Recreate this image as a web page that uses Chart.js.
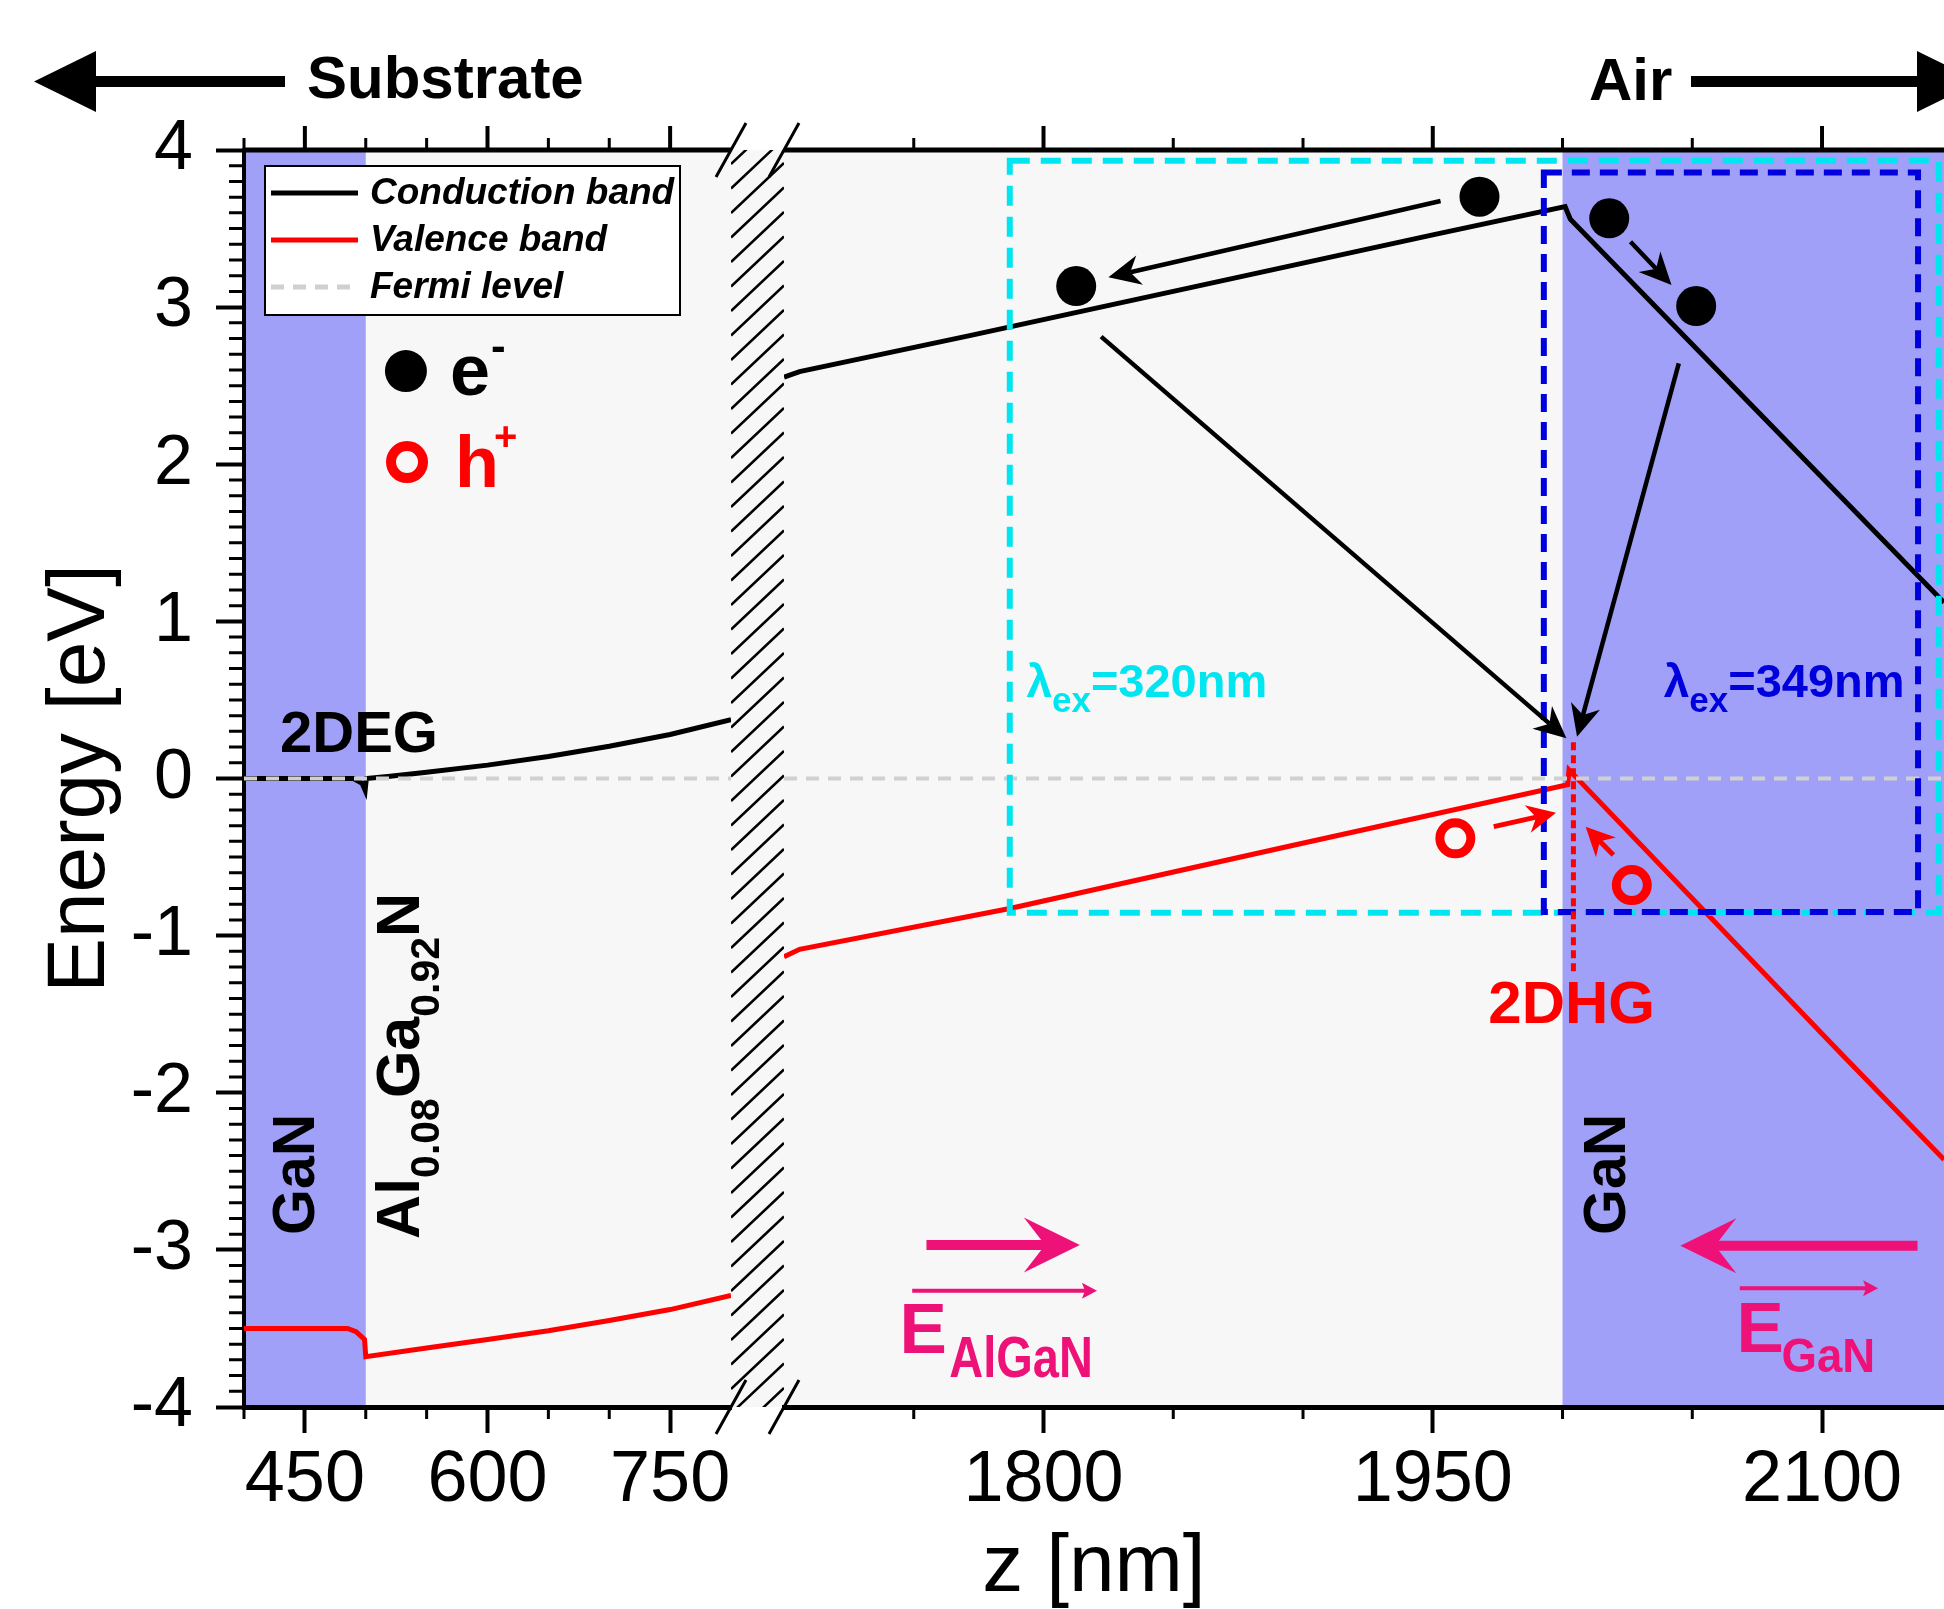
<!DOCTYPE html>
<html><head><meta charset="utf-8">
<script src="https://cdn.jsdelivr.net/npm/chart.js@4.4.1/dist/chart.umd.min.js"></script>
<style>html,body{margin:0;padding:0;background:#fff}canvas{display:block}</style>
</head><body>
<canvas id="c" width="1944" height="1609"></canvas>
<script>
const FONT = "'Liberation Sans', Arial, sans-serif";

// ---- axis ranges / ticks ----
const leftRange = [400, 800];
const rightRange = [1700, 2147];
const gaNLeft = [400, 500];
const gaNRight = [2000, 2147];
const xTicksLeft = [400, 450, 500, 550, 600, 650, 700, 750];
const xMajorLeft = [450, 600, 750];
const xTicksRight = [1750, 1800, 1850, 1900, 1950, 2000, 2050, 2100];
const xMajorRight = [1800, 1950, 2100];
const yRange = [-4, 4];

// ---- band data (z in nm, E in eV) ----
const zCbLeft = [400, 490, 497, 499.5, 500.5, 520, 550, 600, 650, 700, 750, 800];
const cbLeft  = [0, 0, -0.03, -0.075, 0.0, 0.015, 0.04, 0.085, 0.14, 0.205, 0.28, 0.375];
const zVbLeft = [400, 485, 492, 499, 500, 550, 600, 650, 700, 750, 800];
const vbLeft  = [-3.5, -3.5, -3.52, -3.57, -3.68, -3.625, -3.57, -3.515, -3.45, -3.38, -3.29];
const zCbRight = [1700, 1706, 1772, 1850, 1900, 1950, 2001, 2003, 2069, 2147];
const cbRight  = [2.555, 2.59, 2.82, 3.10, 3.28, 3.46, 3.64, 3.56, 2.44, 1.12];
const zVbRight = [1700, 1706, 1787, 1895, 2002, 2002.5, 2106, 2147];
const vbRight  = [-1.134, -1.087, -0.827, -0.43, -0.04, 0.055, -1.728, -2.425];
const zFermiLeft = [400, 800];
const zFermiRight = [1700, 2147];
const fermi = [0, 0];

// ---- carriers (right segment) ----
const electronZ = [1968, 1812.6, 2018, 2051.5];
const electronE = [3.703, 3.134, 3.565, 3.007];
const holeZ = [1958.7, 2026.7];
const holeE = [-0.381, -0.678];
// arrows [z0, E0, z1, E1]
const blackArrows = [[1953, 3.675, 1825, 3.19], [2026.2, 3.416, 2042, 3.141],
                     [1822.2, 2.812, 2001.5, 0.256], [2044.8, 2.642, 2005.6, 0.266]];
const redArrows = [[1973.5, -0.306, 1997.5, -0.218], [2019.6, -0.487, 2008.9, -0.307]];

const GAN = '#a0a0f8', BG = '#f7f7f7', CYAN = '#00e6f0', BLUE = '#0000dc', PINK = '#ee1177', RED = '#ff0000';

const pts = (zs, es) => zs.map((z, i) => ({x: z, y: es[i]}));

function zeroPad(s) { s.paddingLeft = 0; s.paddingRight = 0; s.paddingTop = 0; s.paddingBottom = 0; }

function xAxis(range, weight, ticks, majors, labels) {
  return {
    type: 'linear', position: 'bottom', stack: 'bx', stackWeight: weight,
    min: range[0], max: range[1],
    afterBuildTicks: s => { s.ticks = ticks.map(v => ({value: v})); },
    afterFit: s => { s.height = 120; zeroPad(s); },
    ticks: {display: labels, autoSkip: false, maxRotation: 0, padding: 5, color: '#000',
      font: {family: FONT, size: 72},
      callback: v => majors.includes(v) ? String(v) : ''},
    grid: {drawOnChartArea: false, drawTicks: true, tickLength: 26, tickWidth: 4,
      tickColor: c => majors.includes(c.tick.value) ? '#000' : 'rgba(0,0,0,0)'},
    border: {display: ticks.length > 0, width: 5, color: '#000'}
  };
}

function arrowTo(ctx, x0, y0, x1, y1, L, H, notch, lw, color) {
  const a = Math.atan2(y1 - y0, x1 - x0);
  ctx.save();
  ctx.strokeStyle = color; ctx.fillStyle = color; ctx.lineWidth = lw; ctx.lineCap = 'butt';
  ctx.beginPath(); ctx.moveTo(x0, y0);
  ctx.lineTo(x1 - Math.cos(a) * L * notch, y1 - Math.sin(a) * L * notch); ctx.stroke();
  ctx.translate(x1, y1); ctx.rotate(a);
  ctx.beginPath(); ctx.moveTo(0, 0); ctx.lineTo(-L, -H); ctx.lineTo(-L * notch, 0); ctx.lineTo(-L, H);
  ctx.closePath(); ctx.fill();
  ctx.restore();
}

function rich(ctx, x, y, parts, rot) {
  ctx.save(); ctx.translate(x, y); if (rot) ctx.rotate(rot);
  ctx.textBaseline = 'alphabetic'; ctx.textAlign = 'left';
  let cx = 0;
  for (const p of parts) {
    ctx.font = p.font; ctx.fillStyle = p.color;
    const sx = p.sx || 1;
    ctx.save(); ctx.translate(cx, p.dy || 0); ctx.scale(sx, 1); ctx.fillText(p.t, 0, 0); ctx.restore();
    cx += ctx.measureText(p.t).width * sx;
  }
  ctx.restore();
}
const B = s => 'bold ' + s + 'px ' + FONT;

const bgPlugin = {
  id: 'bg',
  beforeDraw(chart) {
    const {ctx, chartArea: a, scales: s} = chart;
    ctx.save();
    ctx.fillStyle = BG; ctx.fillRect(a.left, a.top, a.right - a.left, a.bottom - a.top);
    ctx.fillStyle = GAN;
    const l0 = s.x1.getPixelForValue(gaNLeft[0]), l1 = s.x1.getPixelForValue(gaNLeft[1]);
    ctx.fillRect(l0, a.top, l1 - l0, a.bottom - a.top);
    const r0 = s.x2.getPixelForValue(gaNRight[0]), r1 = s.x2.getPixelForValue(gaNRight[1]);
    ctx.fillRect(r0, a.top, r1 - r0, a.bottom - a.top);
    // hatched break
    const b0 = s.xb.left, b1 = s.xb.right;
    ctx.beginPath(); ctx.rect(b0, a.top, b1 - b0, a.bottom - a.top); ctx.clip();
    ctx.strokeStyle = '#000'; ctx.lineWidth = 2.5;
    ctx.beginPath();
    for (let y = a.top - 60; y < a.bottom + 60; y += 24.5) { ctx.moveTo(b0, y + 25); ctx.lineTo(b1, y - 25); }
    ctx.stroke();
    ctx.restore();
  }
};

const annoPlugin = {
  id: 'anno',
  afterDatasetsDraw(chart) {
    const {ctx, chartArea: a, scales: s} = chart;
    const X = z => (z <= 800 ? s.x1 : s.x2).getPixelForValue(z);
    const Y = e => s.y.getPixelForValue(e);
    ctx.save();
    // excitation boxes
    ctx.lineWidth = 6;
    ctx.strokeStyle = CYAN; ctx.setLineDash([20, 11]);
    ctx.strokeRect(X(1787), Y(3.932), X(2145) - X(1787), Y(-0.854) - Y(3.932));
    ctx.strokeStyle = BLUE; ctx.setLineDash([18, 10]);
    ctx.strokeRect(X(1992.8), Y(3.857), X(2137) - X(1992.8), Y(-0.85) - Y(3.857));
    // 2DHG dotted line
    ctx.strokeStyle = RED; ctx.lineWidth = 5; ctx.setLineDash([8, 5]);
    ctx.beginPath(); ctx.moveTo(X(2004.2), Y(0.23)); ctx.lineTo(X(2004.2), Y(-1.25)); ctx.stroke();
    ctx.setLineDash([]);
    // arrows
    for (const r of blackArrows) arrowTo(ctx, X(r[0]), Y(r[1]), X(r[2]), Y(r[3]), 32, 15, 0.7, 4.5, '#000');
    for (const r of redArrows) arrowTo(ctx, X(r[0]), Y(r[1]), X(r[2]), Y(r[3]), 29, 14, 0.7, 5, RED);
    // electrons
    ctx.fillStyle = '#000';
    electronZ.forEach((z, i) => { ctx.beginPath(); ctx.arc(X(z), Y(electronE[i]), 20, 0, 2 * Math.PI); ctx.fill(); });
    // holes
    ctx.strokeStyle = RED; ctx.lineWidth = 9;
    holeZ.forEach((z, i) => { ctx.beginPath(); ctx.arc(X(z), Y(holeE[i]), 15.5, 0, 2 * Math.PI); ctx.stroke(); });
    // carrier key
    ctx.beginPath(); ctx.arc(X(533), Y(2.593), 21, 0, 2 * Math.PI); ctx.fill();
    ctx.lineWidth = 10; ctx.beginPath(); ctx.arc(X(533.9), Y(2.014), 16, 0, 2 * Math.PI); ctx.stroke();
    rich(ctx, X(569.2), Y(2.44), [{t: 'e', font: B(72), color: '#000'}]);
    rich(ctx, X(569.2) + 41, Y(2.657), [{t: '-', font: B(44), color: '#000'}]);
    rich(ctx, X(573.3), Y(1.855), [{t: 'h', font: B(72), color: RED}]);
    rich(ctx, X(573.3) + 39, Y(2.09), [{t: '+', font: B(40), color: RED}]);
    // labels
    rich(ctx, X(429.6), Y(0.17), [{t: '2DEG', font: B(58), color: '#000'}]);
    rich(ctx, X(457.5), Y(-2.905), [{t: 'GaN', font: B(59), color: '#000'}], -Math.PI / 2);
    rich(ctx, X(543.7), Y(-2.93), [
      {t: 'Al', font: B(61), color: '#000'}, {t: '0.08', font: B(41), color: '#000', dy: 20},
      {t: 'Ga', font: B(61), color: '#000'}, {t: '0.92', font: B(41), color: '#000', dy: 20},
      {t: 'N', font: B(61), color: '#000'}], -Math.PI / 2);
    rich(ctx, X(2023.9), Y(-2.905), [{t: 'GaN', font: B(59), color: '#000'}], -Math.PI / 2);
    ctx.textAlign = 'center'; ctx.font = B(60); ctx.fillStyle = RED;
    ctx.fillText('2DHG', X(2003.5), Y(-1.556));
    rich(ctx, X(1793.4), Y(0.52), [{t: 'λ', font: B(46), color: CYAN}, {t: 'ex', font: B(35), color: CYAN, dy: 15},
      {t: '=320nm', font: B(47), color: CYAN}]);
    rich(ctx, X(2039), Y(0.52), [{t: 'λ', font: B(46), color: BLUE}, {t: 'ex', font: B(35), color: BLUE, dy: 15},
      {t: '=349nm', font: B(47), color: BLUE}]);
    // field arrows
    arrowTo(ctx, X(1754.9), Y(-2.969), X(1814), Y(-2.969), 56, 27.5, 0.62, 10, PINK);
    arrowTo(ctx, X(1749.4), Y(-3.26), X(1820.6), Y(-3.26), 15, 8, 0.8, 4, PINK);
    arrowTo(ctx, X(2136.8), Y(-2.973), X(2045.4), Y(-2.973), 56, 27.5, 0.62, 10, PINK);
    arrowTo(ctx, X(2068.3), Y(-3.245), X(2121.6), Y(-3.245), 15, 8, 0.8, 4, PINK);
    rich(ctx, X(1744.5), Y(-3.656), [{t: 'E', font: B(71), color: PINK}]);
    rich(ctx, X(1763.7), Y(-3.809), [{t: 'AlGaN', font: B(58), color: PINK, sx: 0.81}]);
    rich(ctx, X(2067), Y(-3.647), [{t: 'E', font: B(71), color: PINK}]);
    rich(ctx, X(2084.4), Y(-3.775), [{t: 'GaN', font: B(49), color: PINK, sx: 0.93}]);
    ctx.restore();
  },
  afterDraw(chart) {
    const {ctx, chartArea: a, scales: s} = chart;
    ctx.save();
    // top axis line (mirror of the bottom segments)
    ctx.strokeStyle = '#000'; ctx.lineWidth = 5;
    ctx.beginPath();
    ctx.moveTo(s.x1.left, a.top); ctx.lineTo(s.x1.right, a.top);
    ctx.moveTo(s.x2.left, a.top); ctx.lineTo(s.x2.right, a.top);
    ctx.stroke();
    // top ticks (major + minor) and bottom minor ticks
    [['x1', xMajorLeft], ['x2', xMajorRight]].forEach(([id, maj]) => {
      const sc = s[id];
      sc.ticks.forEach(t => {
        const px = sc.getPixelForValue(t.value);
        const isMaj = maj.includes(t.value);
        ctx.lineWidth = isMaj ? 4 : 3;
        ctx.beginPath();
        ctx.moveTo(px, a.top); ctx.lineTo(px, a.top - (isMaj ? 24 : 12));
        if (!isMaj) { ctx.moveTo(px, a.bottom); ctx.lineTo(px, a.bottom + 12); }
        ctx.stroke();
      });
    });
    ctx.lineWidth = 3;
    ctx.beginPath();
    s.y.ticks.forEach(t => { if (!Number.isInteger(t.value)) {
      const py = s.y.getPixelForValue(t.value);
      ctx.moveTo(a.left, py); ctx.lineTo(a.left - 15, py);
    }});
    ctx.stroke();
    // break marks
    ctx.lineWidth = 3;
    ctx.beginPath();
    [s.xb.left, s.xb.right].forEach(bx => {
      [a.top, a.bottom].forEach(by => { ctx.moveTo(bx - 15, by + 27); ctx.lineTo(bx + 15, by - 27); });
    });
    ctx.stroke();
    // legend
    const lx = a.left + 21, ly = a.top + 16;
    ctx.fillStyle = '#fff'; ctx.fillRect(lx, ly, 415, 149);
    ctx.strokeStyle = '#000'; ctx.lineWidth = 2; ctx.strokeRect(lx, ly, 415, 149);
    const seen = new Set();
    let row = 0;
    chart.data.datasets.forEach(ds => {
      if (seen.has(ds.label)) return; seen.add(ds.label);
      const cy = ly + 27 + row * 47;
      ctx.strokeStyle = ds.borderColor; ctx.lineWidth = ds.legendWidth;
      ctx.setLineDash(ds.borderDash || []);
      ctx.beginPath(); ctx.moveTo(lx + 6, cy); ctx.lineTo(lx + 93, cy); ctx.stroke();
      ctx.setLineDash([]);
      ctx.fillStyle = '#000'; ctx.font = 'italic bold 37px ' + FONT; ctx.textBaseline = 'middle'; ctx.textAlign = 'left';
      ctx.fillText(ds.label, lx + 105, cy + 1);
      row++;
    });
    // substrate / air
    ctx.textBaseline = 'alphabetic';
    const ty = a.top - 68.5;
    ctx.fillStyle = '#000';
    ctx.fillRect(a.left - 160, ty - 5.5, 201, 11);
    ctx.beginPath(); ctx.moveTo(a.left - 210, ty); ctx.lineTo(a.left - 148, ty - 30.5); ctx.lineTo(a.left - 148, ty + 30.5); ctx.closePath(); ctx.fill();
    ctx.font = B(60); ctx.fillText('Substrate', a.left + 63, a.top - 52);
    ctx.fillText('Air', a.right - 355, a.top - 50);
    ctx.fillRect(a.right - 253, ty - 5.5, 230, 11);
    ctx.beginPath(); ctx.moveTo(a.right + 35, ty); ctx.lineTo(a.right - 27, ty - 30.5); ctx.lineTo(a.right - 27, ty + 30.5); ctx.closePath(); ctx.fill();
    ctx.restore();
  }
};

const datasets = [
  {label: 'Fermi level', data: pts(zFermiLeft, fermi), xAxisID: 'x1', borderColor: '#d0d0d0', borderDash: [13, 9], borderWidth: 4, legendWidth: 5, order: 0},
  {label: 'Fermi level', data: pts(zFermiRight, fermi), xAxisID: 'x2', borderColor: '#d0d0d0', borderDash: [13, 9], borderWidth: 4, legendWidth: 5, order: 0},
  {label: 'Conduction band', data: pts(zCbLeft, cbLeft), xAxisID: 'x1', borderColor: '#000', borderWidth: 5, legendWidth: 5, order: 1},
  {label: 'Conduction band', data: pts(zCbRight, cbRight), xAxisID: 'x2', borderColor: '#000', borderWidth: 5, legendWidth: 5, order: 1},
  {label: 'Valence band', data: pts(zVbLeft, vbLeft), xAxisID: 'x1', borderColor: RED, borderWidth: 5, legendWidth: 5, order: 1},
  {label: 'Valence band', data: pts(zVbRight, vbRight), xAxisID: 'x2', borderColor: RED, borderWidth: 5, legendWidth: 5, order: 1}
];
const legendOrder = ['Conduction band', 'Valence band', 'Fermi level'];
datasets.sort((p, q) => legendOrder.indexOf(p.label) - legendOrder.indexOf(q.label));
datasets.forEach(d => { d.yAxisID = 'y'; d.pointRadius = 0; d.tension = 0; d.fill = false; });

new Chart(document.getElementById('c'), {
  type: 'line',
  data: {datasets},
  plugins: [bgPlugin, annoPlugin],
  options: {
    responsive: false, animation: false, devicePixelRatio: 1,
    layout: {padding: {top: 150, left: 0, right: 0, bottom: 0}},
    plugins: {
      legend: {display: false}, tooltip: {enabled: false},
      title: {display: true, text: 'z [nm]', position: 'bottom', fullSize: false, color: '#000',
        font: {family: FONT, size: 82, weight: 'normal', lineHeight: 1}, padding: 0}
    },
    scales: {
      x1: xAxis(leftRange, 487, xTicksLeft, xMajorLeft, true),
      xb: xAxis([0, 1], 53, [], [], false),
      x2: xAxis(rightRange, 1160, xTicksRight, xMajorRight, true),
      y: {
        type: 'linear', position: 'left', min: yRange[0], max: yRange[1],
        afterBuildTicks: s => { const t = []; for (let i = yRange[0] * 10; i <= yRange[1] * 10; i++) t.push({value: i / 10}); s.ticks = t; },
        afterFit: s => { s.width = 244; zeroPad(s); },
        ticks: {autoSkip: false, padding: 23, color: '#000', font: {family: FONT, size: 70},
          callback: v => Number.isInteger(v) ? String(v) : ''},
        grid: {drawOnChartArea: false, drawTicks: true, tickLength: 28, tickWidth: 4,
          tickColor: c => Number.isInteger(c.tick.value) ? '#000' : 'rgba(0,0,0,0)'},
        border: {display: true, width: 4, color: '#000'},
        title: {display: true, text: 'Energy [eV]', color: '#000', font: {family: FONT, size: 82}, padding: {top: 32, bottom: 0}}
      }
    }
  }
});
</script>
</body></html>
